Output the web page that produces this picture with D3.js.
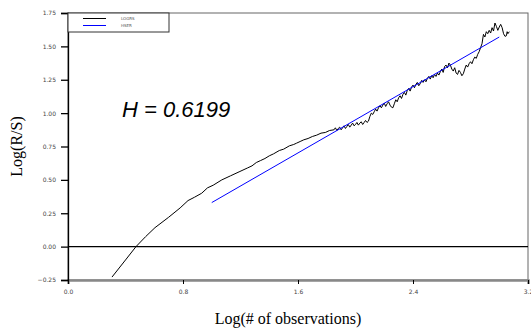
<!DOCTYPE html>
<html>
<head>
<meta charset="utf-8">
<script src="https://cdn.jsdelivr.net/npm/d3@7"></script>
<style>
  body { margin: 0; background: #fff; }
  .tick text { font-family: "DejaVu Sans", sans-serif; font-size: 6px; fill: #444; }
</style>
</head>
<body>
<div id="chart-area"></div>
<script>
// tick labels
var xTicks = [0.0, 0.8, 1.6, 2.4, 3.2]
var yTicks = [-0.25, 0.00, 0.25, 0.50, 0.75, 1.00, 1.25, 1.50, 1.75]

// LOGRS series (log n, log R/S)
var logrsX = [0.306, 0.40, 0.473, 0.54, 0.605, 0.70, 0.78, 0.835, 0.88, 0.93, 0.97, 1.01, 1.07, 1.13, 1.19,
  1.25, 1.28, 1.31, 1.34, 1.37, 1.40, 1.43, 1.47, 1.50, 1.54, 1.57, 1.59, 1.62, 1.64, 1.67, 1.70, 1.73, 1.76, 1.79, 1.82,
  1.85, 1.86, 1.87, 1.88, 1.89, 1.90, 1.91, 1.92, 1.93, 1.94, 1.95, 1.96, 1.97, 1.98, 1.99,
  2.00, 2.01, 2.02, 2.03, 2.04, 2.05, 2.06, 2.07, 2.08, 2.09, 2.10, 2.11, 2.12, 2.13, 2.14, 2.15, 2.16, 2.17, 2.18, 2.19,
  2.20, 2.21, 2.22, 2.23, 2.24, 2.25, 2.26, 2.27, 2.28, 2.29, 2.30, 2.31, 2.32, 2.33, 2.34, 2.35, 2.36, 2.37, 2.38, 2.39,
  2.40, 2.41, 2.42, 2.43, 2.44, 2.45, 2.46, 2.47, 2.48, 2.49, 2.50, 2.51, 2.52, 2.53, 2.54, 2.55, 2.56, 2.57, 2.58, 2.59,
  2.60, 2.61, 2.62, 2.63, 2.64, 2.65, 2.66, 2.67, 2.68, 2.69, 2.70, 2.71, 2.72, 2.73, 2.74, 2.75, 2.76, 2.77, 2.78, 2.79,
  2.80, 2.81, 2.82, 2.83, 2.84, 2.85, 2.86, 2.87, 2.88, 2.89, 2.90, 2.91, 2.92, 2.93, 2.94, 2.95, 2.96, 2.97, 2.98, 2.99,
  3.00, 3.01, 3.02, 3.03, 3.04, 3.05, 3.055, 3.06, 3.07]
var logrsY = [-0.228, -0.10, 0.00, 0.075, 0.142, 0.22, 0.29, 0.345, 0.37, 0.40, 0.44, 0.46, 0.50, 0.53, 0.56,
  0.59, 0.605, 0.63, 0.645, 0.66, 0.68, 0.695, 0.72, 0.73, 0.755, 0.765, 0.775, 0.79, 0.80, 0.81, 0.825, 0.835, 0.85, 0.855, 0.87,
  0.875, 0.89, 0.87, 0.885, 0.895, 0.875, 0.89, 0.905, 0.885, 0.90, 0.915, 0.895, 0.91, 0.925, 0.905,
  0.915, 0.93, 0.91, 0.925, 0.935, 0.915, 0.93, 0.945, 0.93, 0.94, 0.975, 1.00, 0.99, 1.01, 1.03, 1.015, 1.04, 1.055, 1.04, 1.06,
  1.075, 1.05, 1.07, 1.085, 1.06, 1.045, 1.04, 1.07, 1.10, 1.085, 1.115, 1.13, 1.11, 1.14, 1.155, 1.135, 1.17, 1.185, 1.165, 1.195,
  1.21, 1.19, 1.215, 1.23, 1.205, 1.22, 1.245, 1.23, 1.25, 1.235, 1.26, 1.275, 1.255, 1.28, 1.265, 1.29, 1.275, 1.30, 1.285, 1.31,
  1.33, 1.305, 1.35, 1.36, 1.34, 1.375, 1.36, 1.33, 1.315, 1.34, 1.30, 1.29, 1.32, 1.305, 1.28, 1.295, 1.33, 1.36, 1.345, 1.37,
  1.385, 1.37, 1.40, 1.42, 1.41, 1.44, 1.46, 1.49, 1.52, 1.59, 1.57, 1.61, 1.595, 1.62, 1.60, 1.64, 1.615, 1.675, 1.65, 1.62,
  1.645, 1.665, 1.64, 1.595, 1.575, 1.58, 1.61, 1.595, 1.61]

// HSER fitted line, slope 0.6199
var hserX = [1.0, 3.0]
var hserY = [0.33, 1.57]

var cw = 531
var ch = 329
var m = {l: 68, t: 13, r: 3, b: 49}
var w = cw - m.l - m.r
var h = ch - m.t - m.b

var svg = d3.select("#chart-area").append("svg")
    .attr("width", cw)
    .attr("height", ch)

var g = svg.append("g").attr("transform", "translate(" + m.l + ", " + m.t + ")")

var x = d3.scaleLinear().domain([0, 3.2]).range([0, w])
var y = d3.scaleLinear().domain([-0.25, 1.75]).range([h, 0])

// frame
g.append("rect")
    .attr("width", w)
    .attr("height", h)
    .attr("fill", "none")
    .attr("stroke", "#666")
    .attr("stroke-width", 1)

var leftAxis = d3.axisLeft(y)
    .tickValues(yTicks)
    .tickFormat(d3.format(".2f"))
    .tickSize(7)
    .tickPadding(5)

var bottomAxis = d3.axisBottom(x)
    .tickValues(xTicks)
    .tickFormat(d3.format(".1f"))
    .tickSize(4)
    .tickPadding(6)

var xAxisGroup = g.append("g")
    .attr("transform", "translate(0, " + h + ")")
    .call(bottomAxis)
xAxisGroup.select(".domain").attr("stroke", "#888").attr("stroke-width", 2.5)
xAxisGroup.selectAll(".tick line").attr("stroke", "#000")

var yAxisGroup = g.append("g").call(leftAxis)
yAxisGroup.select(".domain").attr("stroke", "#000").attr("stroke-width", 1.3)
yAxisGroup.selectAll(".tick line").attr("stroke", "#000").attr("stroke-width", 1.3)

// zero line
g.append("line")
    .attr("x1", 0).attr("x2", w)
    .attr("y1", y(0)).attr("y2", y(0))
    .attr("stroke", "#000")
    .attr("stroke-width", 1.2)

var line = d3.line()
    .x(d => x(d[0]))
    .y(d => y(d[1]))

g.append("path")
    .datum(d3.zip(logrsX, logrsY))
    .attr("fill", "none")
    .attr("stroke", "#000")
    .attr("stroke-width", 1)
    .attr("d", line)

g.append("path")
    .datum(d3.zip(hserX, hserY))
    .attr("fill", "none")
    .attr("stroke", "#0000ff")
    .attr("stroke-width", 1)
    .attr("d", line)

// legend
var lg = g.append("g")
lg.append("rect")
    .attr("width", 101)
    .attr("height", 19)
    .attr("fill", "#fff")
    .attr("stroke", "#333")
    .attr("stroke-width", 1)
var legendItems = [{name: "LOGRS", color: "#000"}, {name: "HSER", color: "#0000ff"}]
legendItems.forEach((d, i) => {
    lg.append("line")
        .attr("x1", 15).attr("x2", 38)
        .attr("y1", 5.5 + i * 7).attr("y2", 5.5 + i * 7)
        .attr("stroke", d.color)
        .attr("stroke-width", 1)
    lg.append("text")
        .attr("x", 53)
        .attr("y", 7 + i * 7)
        .attr("font-family", "DejaVu Sans, sans-serif")
        .attr("font-size", "4px")
        .attr("fill", "#555")
        .text(d.name)
})

// annotation
g.append("text")
    .attr("x", 54)
    .attr("y", 104)
    .attr("font-family", "Liberation Sans, Arial, sans-serif")
    .attr("font-style", "italic")
    .attr("font-size", "22px")
    .attr("fill", "#000")
    .text("H = 0.6199")

// axis labels
svg.append("text")
    .attr("x", 288)
    .attr("y", 324)
    .attr("text-anchor", "middle")
    .attr("font-family", "Liberation Serif, Times New Roman, serif")
    .attr("font-size", "16px")
    .text("Log(# of observations)")

svg.append("text")
    .attr("transform", "translate(22, " + (m.t + h / 2) + ") rotate(-90)")
    .attr("text-anchor", "middle")
    .attr("font-family", "Liberation Serif, Times New Roman, serif")
    .attr("font-size", "16px")
    .text("Log(R/S)")
</script>
</body>
</html>
